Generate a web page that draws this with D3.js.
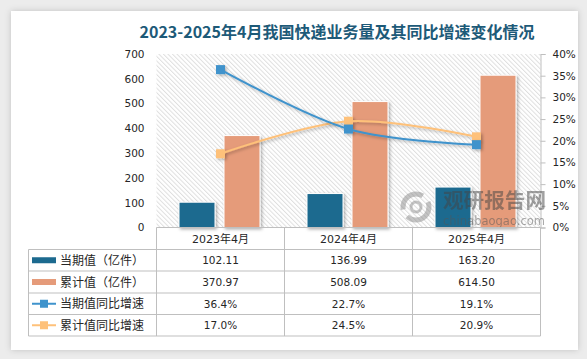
<!DOCTYPE html>
<html><head><meta charset="utf-8">
<script src="https://cdn.jsdelivr.net/npm/d3@7"></script>
<style>html,body{margin:0;padding:0;background:#ececec;overflow:hidden}svg{display:block}</style>
</head><body><svg id="c" width="587" height="359"></svg>
<script>
const title = "2023-2025年4月我国快递业务量及其同比增速变化情况";
const categories = ["2023年4月", "2024年4月", "2025年4月"];
const currentValues = [102.11, 136.99, 163.20];
const cumulativeValues = [370.97, 508.09, 614.50];
const currentGrowth = [36.4, 22.7, 19.1];
const cumulativeGrowth = [17.0, 24.5, 20.9];
const seriesNames = ["当期值（亿件）", "累计值（亿件）", "当期值同比增速", "累计值同比增速"];
const leftTicks = [0, 100, 200, 300, 400, 500, 600, 700];
const rightTicks = [0, 5, 10, 15, 20, 25, 30, 35, 40];

const C = {bar1:"#1c6a8f", bar2:"#e59b7a", line1:"#3f93cc", line2:"#fec17a", grid:"#bfbfbf", text:"#262626"};
const svg = d3.select("#c");
const defs = svg.append("defs");
const pat = defs.append("pattern").attr("id","hatch").attr("patternUnits","userSpaceOnUse")
  .attr("width",3.2).attr("height",3.2).attr("patternTransform","rotate(-45)");
pat.append("rect").attr("width",3.2).attr("height",3.2).attr("fill","#fff");
pat.append("line").attr("x1",0.5).attr("y1",0).attr("x2",0.5).attr("y2",3.2).attr("stroke","#dcdcdc").attr("stroke-width",0.9);
const sh = defs.append("filter").attr("id","sh").attr("x","-30%").attr("y","-30%").attr("width","160%").attr("height","160%");
sh.append("feDropShadow").attr("dx",1.5).attr("dy",1.5).attr("stdDeviation",1.5).attr("flood-color","#000").attr("flood-opacity",0.3);
const cs = defs.append("filter").attr("id","cs").attr("x","-5%").attr("y","-5%").attr("width","110%").attr("height","110%");
cs.append("feDropShadow").attr("dx",0).attr("dy",0).attr("stdDeviation",3).attr("flood-color","#000").attr("flood-opacity",0.18);

// card
svg.append("rect").attr("x",11).attr("y",11).attr("width",567).attr("height",339).attr("fill","#fff").attr("filter","url(#cs)");

const L = 156.5, R = 540.5, T = 54, B = 227.5;
const x = d3.scaleBand().domain(categories).range([L, R]);
const inner = d3.scaleBand().domain(["cur","cum"]).range([22.5, 103.5]).paddingInner(0.2);
const yL = d3.scaleLinear().domain([0, 700]).range([B, T]);
const yR = d3.scaleLinear().domain([0, 40]).range([B, T]);

svg.append("text").attr("x",337).attr("y",38).attr("text-anchor","middle")
  .attr("font-family","'Noto Sans CJK SC',sans-serif").attr("font-weight","bold").attr("font-size",16)
  .attr("fill","#1d5a78").text(title);

svg.append("rect").attr("x",L).attr("y",T).attr("width",R-L).attr("height",B-T).attr("fill","url(#hatch)");

// left axis labels
const num = "'DejaVu Sans','Noto Sans CJK SC',sans-serif";
const gL = svg.append("g").attr("transform",`translate(${L},0)`).call(d3.axisLeft(yL).tickValues(leftTicks).tickSize(0).tickPadding(12));
gL.select(".domain").remove();
gL.selectAll("text").attr("font-family",num).attr("font-size",10.5).attr("fill",C.text);
const gR = svg.append("g").attr("transform",`translate(${R},0)`).call(d3.axisRight(yR).tickValues(rightTicks).tickSize(5).tickPadding(7).tickFormat(d=>d+"%"));
gR.select(".domain").attr("stroke",C.grid);
gR.selectAll(".tick line").attr("stroke",C.grid);
gR.selectAll("text").attr("font-family",num).attr("font-size",10.5).attr("fill",C.text);

// bars
const bars = svg.append("g");
bars.selectAll(".b1").data(categories).join("rect")
  .attr("x",d=>x(d)+inner("cur")).attr("width",inner.bandwidth())
  .attr("y",(d,i)=>yL(currentValues[i])).attr("height",(d,i)=>B-yL(currentValues[i]))
  .attr("fill",C.bar1).attr("stroke","#fff").attr("stroke-width",1).attr("filter","url(#sh)");
bars.selectAll(".b2").data(categories).join("rect")
  .attr("x",d=>x(d)+inner("cum")).attr("width",inner.bandwidth())
  .attr("y",(d,i)=>yL(cumulativeValues[i])).attr("height",(d,i)=>B-yL(cumulativeValues[i]))
  .attr("fill",C.bar2).attr("stroke","#fff").attr("stroke-width",1).attr("filter","url(#sh)");

// watermark (over bars)
const wm = svg.append("g").attr("opacity",0.5);
wm.append("circle").attr("cx",416).attr("cy",207).attr("r",13).attr("fill","none").attr("stroke","#8a8a8a").attr("stroke-width",5).attr("stroke-dasharray","30 8");
wm.append("circle").attr("cx",416).attr("cy",207).attr("r",5).attr("fill","none").attr("stroke","#8a8a8a").attr("stroke-width",3);
wm.append("text").attr("x",443).attr("y",208).attr("textLength",103).attr("lengthAdjust","spacingAndGlyphs")
  .attr("font-family","'Noto Sans CJK SC',sans-serif").attr("font-weight","bold").attr("font-size",20).attr("fill","#444").text("观研报告网");
wm.append("text").attr("x",443).attr("y",225).attr("textLength",102).attr("lengthAdjust","spacingAndGlyphs")
  .attr("font-family","'DejaVu Sans',sans-serif").attr("font-size",12.5).attr("fill","#555").text("chinabaogao.com");

// lines
const cx = d => x(d) + x.bandwidth()/2;
function drawLine(vals, color){
  const g = svg.append("g").attr("filter","url(#sh)");
  const line = d3.line().x((d,i)=>cx(categories[i])).y(d=>yR(d)).curve(d3.curveCardinal.tension(0));
  g.append("path").attr("d",line(vals)).attr("fill","none").attr("stroke",color).attr("stroke-width",2);
  g.selectAll("rect").data(vals).join("rect")
    .attr("x",(d,i)=>cx(categories[i])-4.5).attr("y",d=>yR(d)-4.5).attr("width",9).attr("height",9).attr("fill",color);
}
drawLine(cumulativeGrowth, C.line2);
drawLine(currentGrowth, C.line1);

// table
const tb = svg.append("g");
const rowY = [B, 249.5, 271, 293, 314.5, 336];
const TL = 28.5;
const stroke = C.grid;
tb.append("line").attr("x1",L).attr("x2",R).attr("y1",B).attr("y2",B).attr("stroke",stroke);
const colX = [L, ...categories.map(c=>x(c)+x.bandwidth())];
colX.forEach(cxv=>tb.append("line").attr("x1",cxv).attr("x2",cxv).attr("y1",B).attr("y2",rowY[5]).attr("stroke",stroke));
tb.append("line").attr("x1",TL).attr("x2",TL).attr("y1",rowY[1]).attr("y2",rowY[5]).attr("stroke",stroke);
rowY.slice(1).forEach(yv=>tb.append("line").attr("x1",TL).attr("x2",R).attr("y1",yv).attr("y2",yv).attr("stroke",stroke));
categories.forEach(c=>tb.append("text").attr("x",cx(c)).attr("y",(rowY[0]+rowY[1])/2+4)
  .attr("text-anchor","middle").attr("font-family",num).attr("font-size",11).attr("fill",C.text).text(c));

const rows = [
  {name:seriesNames[0], vals:currentValues.map(v=>v.toFixed(2)), color:C.bar1, type:"bar"},
  {name:seriesNames[1], vals:cumulativeValues.map(v=>v.toFixed(2)), color:C.bar2, type:"bar"},
  {name:seriesNames[2], vals:currentGrowth.map(v=>v.toFixed(1)+"%"), color:C.line1, type:"line"},
  {name:seriesNames[3], vals:cumulativeGrowth.map(v=>v.toFixed(1)+"%"), color:C.line2, type:"line"}
];
rows.forEach((r,k)=>{
  const cyv = (rowY[k+1]+rowY[k+2])/2;
  if(r.type==="bar"){
    tb.append("rect").attr("x",32).attr("y",cyv-3).attr("width",24).attr("height",6).attr("fill",r.color);
  } else {
    tb.append("line").attr("x1",32).attr("x2",56).attr("y1",cyv).attr("y2",cyv).attr("stroke",r.color).attr("stroke-width",2);
    tb.append("rect").attr("x",40).attr("y",cyv-4).attr("width",8).attr("height",8).attr("fill",r.color);
  }
  tb.append("text").attr("x",60).attr("y",cyv+4.5).attr("font-family","'Noto Sans CJK SC',sans-serif").attr("font-size",12).attr("fill",C.text).text(r.name);
  r.vals.forEach((v,i)=>tb.append("text").attr("x",cx(categories[i])).attr("y",cyv+4)
    .attr("text-anchor","middle").attr("font-family",num).attr("font-size",10.5).attr("fill",C.text).text(v));
});
</script></body></html>
